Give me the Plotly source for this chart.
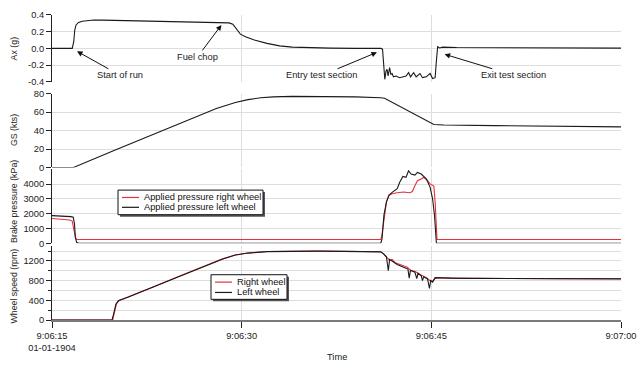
import plotly.graph_objects as go
import pandas as pd

# ---------------- data (seconds after 9:06:15, value) ----------------
BASE = pd.Timestamp("1904-01-01 09:06:15")

ax_points = [
    (0, 0.0), (1.6, 0.0), (1.72, 0.08), (1.8, 0.22), (1.9, 0.28), (2.1, 0.31), (2.4, 0.325),
    (2.8, 0.335), (3.3, 0.34), (4.0, 0.338), (5.0, 0.335), (6.0, 0.333), (7.0, 0.33),
    (8.0, 0.328), (9.0, 0.325), (10.0, 0.322), (11.0, 0.318), (11.8, 0.312), (12.4, 0.31),
    (13.0, 0.306), (13.5, 0.31), (14.0, 0.305), (14.3, 0.29), (14.6, 0.23), (14.9, 0.17),
    (15.3, 0.14), (16.0, 0.10), (17.0, 0.06), (18.0, 0.03), (19.0, 0.015), (20.0, 0.008),
    (22.0, 0.003), (24.0, 0.0), (26.0, 0.0), (26.14, -0.01), (26.25, -0.3), (26.32, -0.37),
    (26.42, -0.27), (26.5, -0.25), (26.58, -0.33), (26.7, -0.23), (26.8, -0.31), (26.9, -0.3),
    (27.0, -0.34), (27.2, -0.33), (27.5, -0.35), (27.8, -0.34), (28.0, -0.33), (28.2, -0.29),
    (28.35, -0.34), (28.6, -0.29), (28.8, -0.34), (29.1, -0.3), (29.3, -0.35), (29.6, -0.34),
    (29.9, -0.3), (30.1, -0.36), (30.3, -0.35), (30.4, -0.15), (30.5, 0.02), (30.65, 0.005),
    (30.9, 0.015), (32.0, 0.01), (34.0, 0.008), (37.0, 0.006), (40.0, 0.004), (43.0, 0.003),
    (45.0, 0.003),
]

gs_points = [
    (0, 0), (1.7, 0), (5, 19), (10, 47.5), (13, 64), (14.5, 70.5), (15.5, 73.5), (16.5, 75.5),
    (17.5, 76.5), (19, 77), (22, 77), (24, 76.5), (26, 75.5), (26.3, 75), (30.2, 46.5),
    (31, 46), (35, 45.3), (40, 44.5), (45, 44),
]

brake_right_points = [
    (0, 1680), (0.8, 1650), (1.4, 1580), (1.6, 1500), (1.72, 1000), (1.85, 400), (1.95, 250),
    (26.0, 250), (26.1, 600), (26.3, 1700), (26.45, 2800), (26.65, 3250), (26.9, 3350),
    (27.3, 3420), (27.8, 3470), (28.3, 3420), (28.5, 3500), (28.7, 3900), (28.9, 4240),
    (29.2, 4350), (29.4, 4470), (29.7, 4240), (29.9, 4020), (30.2, 3870), (30.3, 2800),
    (30.45, 250), (45, 250),
]

brake_left_points = [
    (0, 1870), (0.8, 1850), (1.5, 1800), (1.68, 1760), (1.78, 1300), (1.85, 400), (1.95, 60),
    (2.1, 0), (26.0, 0), (26.1, 300), (26.25, 1900), (26.45, 2800), (26.65, 3250),
    (26.9, 3450), (27.3, 3700), (27.5, 4130), (27.75, 4530), (28.0, 4470), (28.2, 4900),
    (28.4, 4690), (28.7, 4620), (28.9, 4800), (29.2, 4690), (29.6, 4360), (29.9, 3800),
    (30.1, 3000), (30.25, 1900), (30.4, 0), (45, 0),
]

wheel_right_points = [
    (0, 0), (4.8, 0), (4.95, 170), (5.1, 330), (5.3, 395), (6, 465), (8, 672), (10, 882),
    (12, 1092), (13.5, 1242), (14.5, 1322), (15.5, 1362), (17, 1392), (19, 1402), (21, 1402),
    (23, 1397), (25, 1392), (26.0, 1387), (26.25, 1340), (26.5, 1260), (26.7, 1210),
    (26.9, 1230), (27.1, 1170), (27.3, 1150), (27.6, 1120), (27.8, 1090), (28.1, 1070),
    (28.4, 1000), (28.7, 990), (29.0, 940), (29.3, 900), (29.6, 860), (29.9, 800),
    (30.1, 790), (30.3, 850), (30.6, 860), (31.5, 852), (33, 846), (36, 842), (40, 840),
    (45, 838),
]

wheel_left_points = [
    (0, 0), (4.75, 0), (4.9, 150), (5.05, 320), (5.25, 390), (6, 460), (8, 670), (10, 880),
    (12, 1090), (13.5, 1240), (14.5, 1320), (15.5, 1360), (17, 1390), (19, 1400), (21, 1400),
    (23, 1395), (25, 1390), (26.0, 1385), (26.2, 1350), (26.45, 1280), (26.6, 1000),
    (26.7, 1230), (26.9, 1200), (27.3, 1130), (27.8, 1070), (28.15, 1035), (28.25, 850),
    (28.35, 1010), (28.7, 970), (28.85, 840), (28.95, 950), (29.2, 900), (29.3, 800),
    (29.4, 880), (29.7, 835), (29.85, 640), (29.95, 800), (30.1, 770), (30.3, 860),
    (30.6, 855), (31.5, 850), (33, 845), (36, 840), (40, 838), (45, 836),
]

x_tick_seconds = [0, 15, 30, 45]
x_tick_labels = ["9:06:15<br>01-01-1904", "9:06:30", "9:06:45", "9:07:00"]

ax_ticks = [-0.4, -0.2, 0.0, 0.2, 0.4]
ax_tick_labels = ["-0.4", "-0.2", "0.0", "0.2", "0.4"]

annotations_text = [
    # (label, seconds, Ax value at arrow tip, text offset x px, text offset y px)
    ("Start of run", 1.98, -0.035, 43, 24),
    ("Fuel chop", 13.4, 0.28, -24, 32),
    ("Entry test section", 25.7, -0.047, -55, 23),
    ("Exit test section", 31.05, -0.07, 69, 21),
]

y_titles = ["Ax (g)", "GS (kts)", "Brake pressure (kPa)", "Wheel speed (rpm)"]


def split(points):
    t = [BASE + pd.Timedelta(seconds=s) for s, _ in points]
    v = [val for _, val in points]
    return t, v


# ---------------- layout helpers ----------------
W, H = 643, 365
ML, MR, MT, MB = 52, 22, 5, 45
PW, PH = W - ML - MR, H - MT - MB


def px(x):
    return (x - ML) / PW


def py(y):
    return (H - MB - y) / PH


FONT = "Liberation Sans, Arial, sans-serif"
FS = 9.3
TFS = 8.8
GRID = "#dedede"
RED = "#e8303a"
BLACK = "#1a1a1a"

fig = go.Figure()

LW = 1.1
t, v = split(ax_points)
fig.add_trace(go.Scatter(x=t, y=v, mode="lines", line=dict(color=BLACK, width=LW),
                         name="Ax", xaxis="x", yaxis="y", showlegend=False))
t, v = split(gs_points)
fig.add_trace(go.Scatter(x=t, y=v, mode="lines", line=dict(color=BLACK, width=LW),
                         name="GS", xaxis="x2", yaxis="y2", showlegend=False))
t, v = split(brake_right_points)
fig.add_trace(go.Scatter(x=t, y=v, mode="lines", line=dict(color=RED, width=LW),
                         name="Applied pressure right wheel", xaxis="x3", yaxis="y3",
                         showlegend=False))
t, v = split(brake_left_points)
fig.add_trace(go.Scatter(x=t, y=v, mode="lines", line=dict(color=BLACK, width=LW),
                         name="Applied pressure left wheel", xaxis="x3", yaxis="y3",
                         showlegend=False))
t, v = split(wheel_right_points)
fig.add_trace(go.Scatter(x=t, y=v, mode="lines", line=dict(color=RED, width=LW),
                         name="Right wheel", xaxis="x4", yaxis="y4", showlegend=False))
t, v = split(wheel_left_points)
fig.add_trace(go.Scatter(x=t, y=v, mode="lines", line=dict(color=BLACK, width=LW),
                         name="Left wheel", xaxis="x4", yaxis="y4", showlegend=False))

xr = [BASE, BASE + pd.Timedelta(seconds=45)]
tickvals = [BASE + pd.Timedelta(seconds=s) for s in x_tick_seconds]

common_x = dict(type="date", range=xr, showgrid=True, gridcolor=GRID, gridwidth=1,
                tickvals=tickvals, zeroline=False, domain=[0, 1])

layout = dict(
    width=W, height=H,
    margin=dict(l=ML, r=MR, t=MT, b=MB),
    paper_bgcolor="white", plot_bgcolor="white",
    font=dict(family=FONT, size=FS, color="#222"),
    showlegend=False,
)

for i in (1, 2, 3):
    key = "xaxis" if i == 1 else f"xaxis{i}"
    layout[key] = dict(common_x, anchor="y" if i == 1 else f"y{i}", matches="x4",
                       showticklabels=False, ticks="", showline=False)

layout["xaxis4"] = dict(common_x, anchor="y4", ticktext=x_tick_labels, ticks="outside",
                        ticklen=6, tickcolor="#222", tickwidth=1, showline=True,
                        linecolor="#7a7a7a", linewidth=2,
                        tickfont=dict(family=FONT, size=FS, color="#222"))

ycommon = dict(showline=True, linecolor="#222", linewidth=1, ticks="outside", ticklen=5,
               tickcolor="#222", showgrid=True, gridcolor=GRID, gridwidth=1, zeroline=False,
               tickfont=dict(family=FONT, size=FS, color="#222"))

layout["yaxis"] = dict(ycommon, anchor="x", domain=[py(78), py(10)], range=[-0.4, 0.4],
                       tickvals=ax_ticks, ticktext=ax_tick_labels)
layout["yaxis2"] = dict(ycommon, anchor="x2", domain=[py(165), py(90)], range=[0, 80],
                        dtick=20)
layout["yaxis3"] = dict(ycommon, anchor="x3", domain=[py(242), py(167)], range=[0, 5000],
                        tickvals=[0, 1000, 2000, 3000, 4000])
layout["yaxis4"] = dict(ycommon, anchor="x4", domain=[py(320), py(245)], range=[0, 1500],
                        tickvals=[0, 400, 800, 1200],
                        minor=dict(tickvals=[200, 600, 1000, 1400], ticks="outside",
                                   ticklen=3, tickcolor="#222", showgrid=True,
                                   gridcolor=GRID))

fig.update_layout(**layout)

anns = []
# event annotations with arrows
for label, s, val, dx, dy in annotations_text:
    anns.append(dict(x=BASE + pd.Timedelta(seconds=s), y=val, xref="x", yref="y",
                     text=label, showarrow=True, arrowhead=2, arrowsize=1.1, arrowwidth=1,
                     arrowcolor="#111", ax=dx, ay=dy,
                     font=dict(family=FONT, size=FS, color="#222")))

# y-axis titles (pixel centre heights)
for title, yc in zip(y_titles, [44, 127, 200, 286]):
    anns.append(dict(x=px(14), y=py(yc), xref="paper", yref="paper",
                     text=title, textangle=-90, showarrow=False, xanchor="center",
                     yanchor="middle", font=dict(family=FONT, size=TFS, color="#222")))

# x-axis title
anns.append(dict(x=px(337), y=py(358), xref="paper", yref="paper", text="Time",
                 showarrow=False, xanchor="center", yanchor="middle",
                 font=dict(family=FONT, size=FS, color="#222")))

shapes = []


def legend_box(x0, y0, x1, y1, items, line_x0, line_x1, text_x):
    shapes.append(dict(type="rect", xref="paper", yref="paper", x0=px(x0 + 2), x1=px(x1 + 2),
                       y0=py(y1 + 2), y1=py(y0 + 2), fillcolor="#555", line=dict(width=0),
                       layer="above"))
    shapes.append(dict(type="rect", xref="paper", yref="paper", x0=px(x0), x1=px(x1),
                       y0=py(y1), y1=py(y0), fillcolor="white",
                       line=dict(color="#111", width=1), layer="above"))
    for label, color, yy in items:
        shapes.append(dict(type="line", xref="paper", yref="paper", x0=px(line_x0),
                           x1=px(line_x1), y0=py(yy), y1=py(yy),
                           line=dict(color=color, width=1.2), layer="above"))
        anns.append(dict(x=px(text_x), y=py(yy), xref="paper", yref="paper", text=label,
                         showarrow=False, xanchor="left", yanchor="middle",
                         font=dict(family=FONT, size=FS, color="#111")))


legend_box(118, 188, 263, 213,
           [("Applied pressure right wheel", RED, 195.5),
            ("Applied pressure left wheel", BLACK, 205.5)],
           122, 139, 142)
legend_box(211, 274, 287, 299,
           [("Right wheel", RED, 281.5), ("Left wheel", BLACK, 292)],
           215, 232, 235)

fig.update_layout(annotations=anns, shapes=shapes)

fig.write_html("out.html", config={"displayModeBar": False},
               post_script="document.body.style.margin='0';document.body.style.padding='0';")
